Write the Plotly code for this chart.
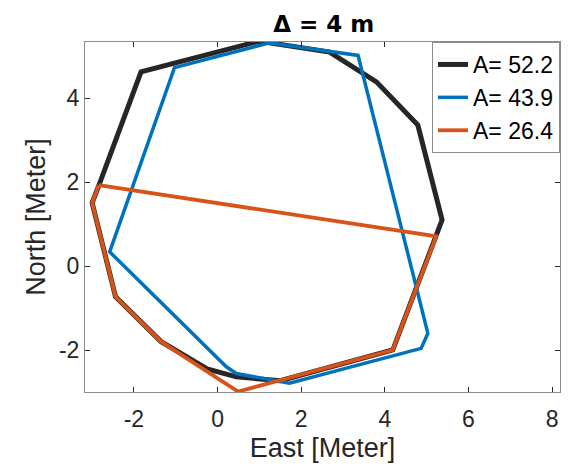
import plotly.graph_objects as go

# Polygon vertices (East, North) in meters for each traced boundary
east_a = [1.00, 2.68, 3.80, 4.79, 5.37, 5.22, 4.19, 1.50, 0.45, -0.25, -1.35, -2.44, -3.00, -2.82, -1.83, 1.00]
north_a = [5.36, 5.10, 4.39, 3.36, 1.10, 0.71, -2.00, -2.73, -2.64, -2.45, -1.80, -0.73, 1.51, 1.97, 4.63, 5.36]

east_b = [1.24, 3.36, 5.03, 4.87, 1.72, 0.45, 0.21, -2.58, -1.03, 1.24]
north_b = [5.32, 5.02, -1.60, -1.96, -2.79, -2.56, -2.40, 0.34, 4.73, 5.32]

east_c = [-2.84, 5.23, 4.19, 0.49, -1.35, -2.44, -3.00, -2.84]
north_c = [1.93, 0.71, -2.00, -2.99, -1.80, -0.73, 1.51, 1.93]

areas = [52.2, 43.9, 26.4]
colors = ["#262626", "#0072BD", "#D95319"]
widths = [5, 3.5, 3.8]

x_ticks = [-2, 0, 2, 4, 6, 8]
x_labels = ["-2", "0", "2", "4", "6", "8"]
y_ticks = [-2, 0, 2, 4]
y_labels = ["-2", "0", "2", "4"]

FONT = "Liberation Sans, Arial, sans-serif"
AX = "#262626"

fig = go.Figure()
for xs, ys, a, c, w in zip([east_a, east_b, east_c], [north_a, north_b, north_c],
                           areas, colors, widths):
    fig.add_trace(go.Scatter(x=xs, y=ys, mode="lines", name=f"A= {a}",
                             line=dict(color=c, width=w)))

axis_common = dict(
    showgrid=False, zeroline=False, showline=True, linecolor="#8c8c8c", linewidth=1,
    mirror="allticks", ticks="inside", ticklen=5, tickcolor=AX,
    tickfont=dict(family=FONT, size=23, color=AX),
)

fig.update_layout(
    width=570, height=470,
    margin=dict(l=85, r=10, t=42, b=78),
    paper_bgcolor="white", plot_bgcolor="white",
    title=dict(text="<b>Δ = 4 m</b>", x=0.568, xanchor="center", y=0.95, yanchor="middle",
               font=dict(family="DejaVu Sans, sans-serif", size=23, color="black")),
    xaxis=dict(range=[-3.17, 8.19], tickvals=x_ticks, ticktext=x_labels, ticklabelstandoff=6,
               title=dict(text="East [Meter]", font=dict(family=FONT, size=27, color=AX), standoff=7),
               **axis_common),
    yaxis=dict(range=[-3.0, 5.34], tickvals=y_ticks, ticktext=y_labels,
               title=dict(text="North [Meter]", font=dict(family=FONT, size=27, color=AX), standoff=5),
               **axis_common),
    legend=dict(x=1, xanchor="right", y=1, yanchor="top", bgcolor="white",
                bordercolor="#8c8c8c", borderwidth=1,
                font=dict(family=FONT, size=23, color="black"),
                itemwidth=30, tracegroupgap=0),
    showlegend=True,
)

fig.write_html("out.html")
